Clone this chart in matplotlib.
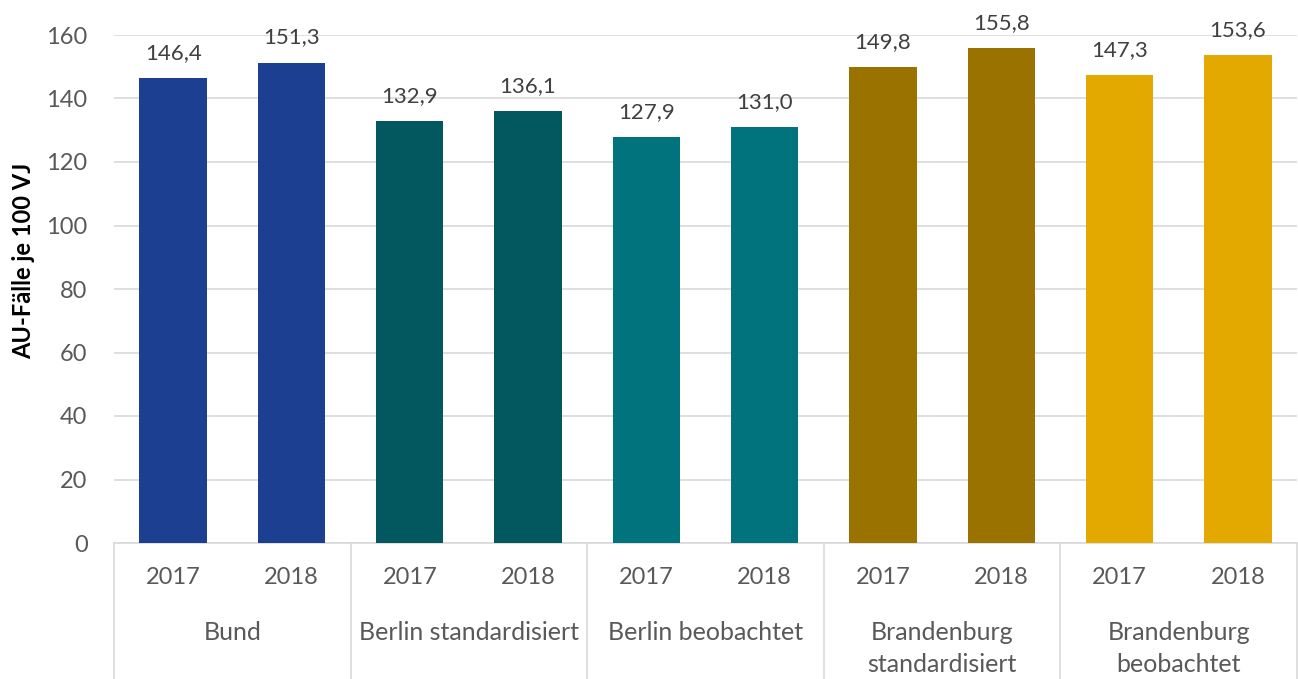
import matplotlib.pyplot as plt
import matplotlib.transforms as mtransforms

plt.rcParams['font.family'] = ['Lato', 'DejaVu Sans']

# data
groups = ['Bund', 'Berlin standardisiert', 'Berlin beobachtet',
          'Brandenburg\nstandardisiert', 'Brandenburg\nbeobachtet']
years = ['2017', '2018']
values = [146.4, 151.3, 132.9, 136.1, 127.9, 131.0, 149.8, 155.8, 147.3, 153.6]
colors = ['#1D3F91', '#02585E', '#00737C', '#9A7200', '#E3A900']

fig = plt.figure(figsize=(12.98, 6.79), dpi=100)
ax = fig.add_axes([114/1298, 1 - 543/679, (1297 - 114)/1298, (543 - 35)/679])

x = list(range(len(values)))
bar_colors = [colors[i // 2] for i in x]
ax.bar(x, values, width=0.57, color=bar_colors, zorder=3)

for xi, v in zip(x, values):
    ax.annotate(f'{v:.1f}'.replace('.', ','), (xi, v), xytext=(0, 11),
                textcoords='offset points', ha='center', va='bottom',
                fontsize=16, color='#404040', annotation_clip=False)

ax.set_xlim(-0.5, len(values) - 0.5)
ax.set_ylim(0, 160)
ax.set_yticks(range(0, 161, 20))
ax.tick_params(axis='y', length=0, labelsize=17, labelcolor='#595959', pad=19)
ax.set_xticks([])
ax.grid(axis='y', color='#D9D9D9', lw=1.2, zorder=0)
for s in ['top', 'right', 'left']:
    ax.spines[s].set_visible(False)
ax.spines['bottom'].set_color('#D9D9D9')
ax.spines['bottom'].set_linewidth(1.2)

ax.set_ylabel('AU-Fälle je 100 VJ', fontsize=17, fontweight='bold')
ax.yaxis.set_label_coords(-0.067, 0.555)

# category axis below
px = 1 / 508
trans = mtransforms.blended_transform_factory(ax.transData, ax.transAxes)
for xi in x:
    ax.text(xi, -35 * px, years[xi % 2], transform=trans, ha='center', va='center',
            fontsize=17, color='#595959')
for gi, g in enumerate(groups):
    lines = g.split('\n')
    for li, line in enumerate(lines):
        ax.text(gi * 2 + 0.5, -(89 + 33 * li) * px, line, transform=trans,
                ha='center', va='center', fontsize=18, color='#595959')
for b in range(len(groups) + 1):
    ax.plot([b * 2 - 0.5, b * 2 - 0.5], [0, -136 * px], transform=trans,
            color='#D9D9D9', lw=1.2, clip_on=False)

fig.savefig('out.png', dpi=100)
